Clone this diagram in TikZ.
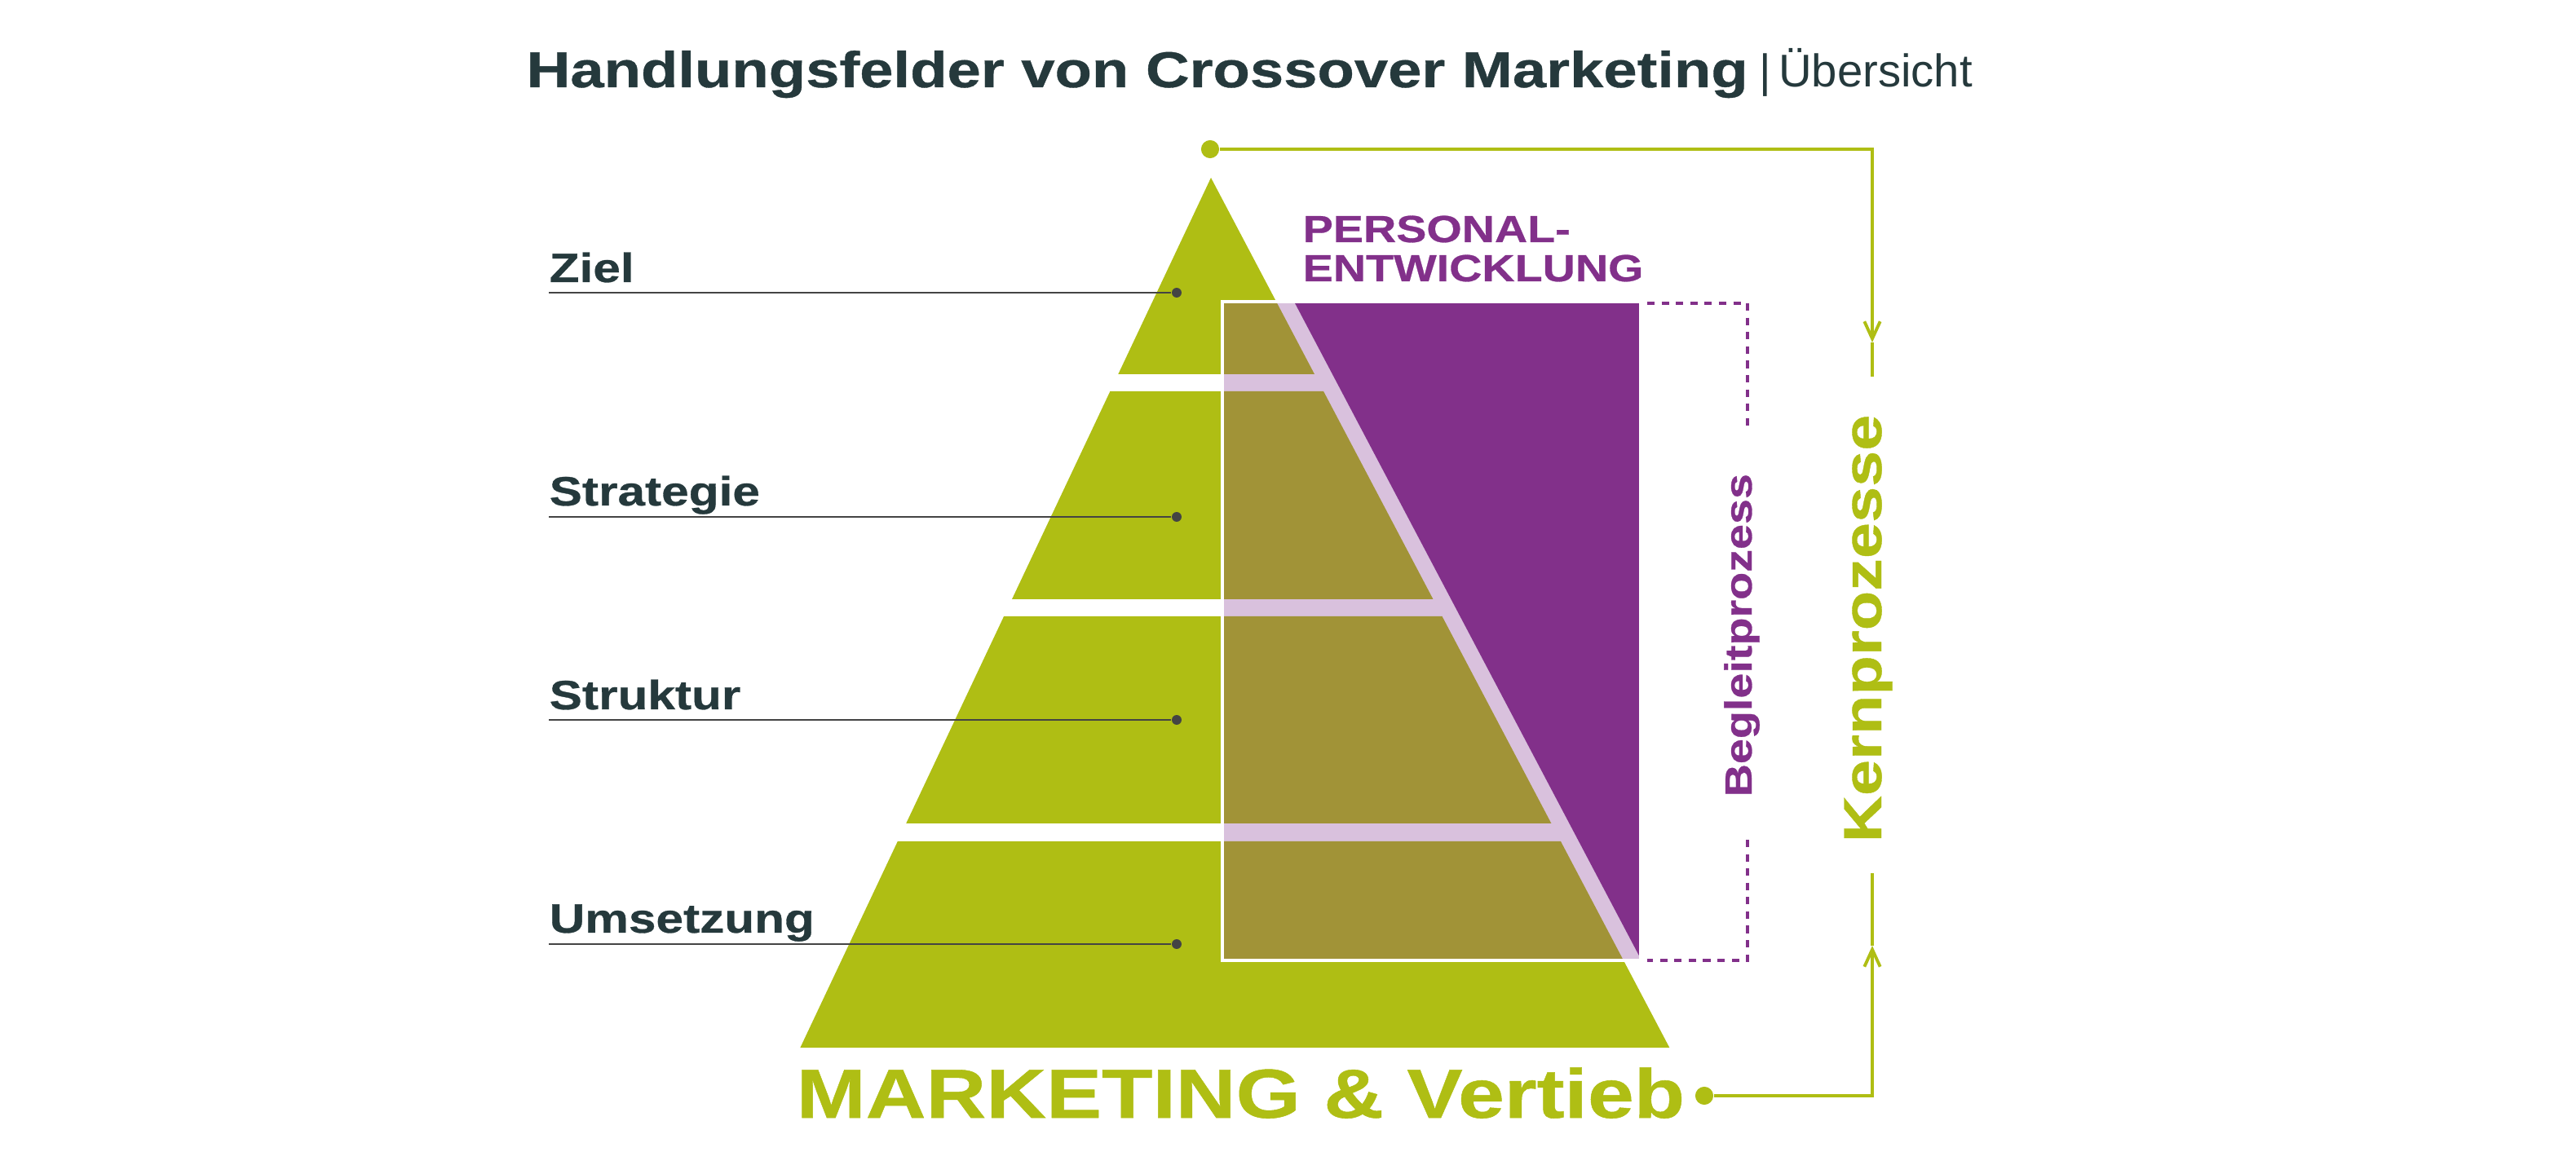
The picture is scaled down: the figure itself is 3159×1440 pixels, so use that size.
\documentclass[tikz,border=0pt]{standalone}
\usepackage{fontspec}
\setmainfont{Liberation Sans}
\newfontfamily\widesans[FakeStretch=1.2, FakeBold=0.6]{Liberation Sans}
\usepackage{xcolor}
\usetikzlibrary{arrows.meta, positioning}

\definecolor{pyrgreen}{HTML}{AFBE14}
\definecolor{pyrolive}{HTML}{A19337}
\definecolor{pelilac}{HTML}{D9C1DD}
\definecolor{pepurple}{HTML}{82308A}
\definecolor{slate}{HTML}{25393C}
\definecolor{leadgray}{HTML}{444444}

% the four tiers of the pyramid (apex at 1485/218)
\newcommand{\pyramidtiers}[1]{%
  \foreach \ytop/\ybot in {218/459, 480/735, 756/1010, 1032/1285}
    \fill[#1] ({1485-0.472*(\ytop-218)},\ytop) -- ({1485+0.527*(\ytop-218)},\ytop)
      -- ({1485+0.527*(\ybot-218)},\ybot) -- ({1485-0.472*(\ybot-218)},\ybot) -- cycle;
}

\begin{document}
\begin{tikzpicture}[x=0.01cm, y=-0.01cm]
  \tikzstyle{level} = [font=\widesans\bfseries\fontsize{14.3}{16}\selectfont, text=slate, inner sep=0pt]
  \tikzstyle{ldot} = [circle, fill=leadgray, minimum size=3.4pt, inner sep=0pt]
  \tikzstyle{leader} = [draw=leadgray, line width=0.6pt]
  \tikzstyle{kdot} = [circle, fill=pyrgreen, minimum size=6.3pt, inner sep=0pt]
  \tikzstyle{kline} = [draw=pyrgreen, line width=1.1pt]
  \tikzstyle{bracket} = [draw=pepurple, line width=0.95pt, dash pattern=on 2.6pt off 2.4pt]
  \tikzstyle{petext} = [font=\widesans\bfseries\fontsize{13.2}{15}\selectfont, text=pepurple, inner sep=0pt]
  \useasboundingbox (0,0) rectangle (3159,1440);

  % title
  \node[font=\widesans\bfseries\fontsize{17.6}{20}\selectfont, text=slate, inner sep=0pt, anchor=base west] (title) at (645,107) {Handlungsfelder von Crossover Marketing};
  \node[font=\fontsize{16}{19}\selectfont, text=slate, inner sep=0pt, base right=0.12cm of title] (sub) {|\,Übersicht};

  % pyramid with overlay
  \pyramidtiers{pyrgreen}
  \fill[pelilac] (1499,370) rectangle (2012,1178);
  \begin{scope}
    \clip (1499,370) rectangle (2012,1178);
    \pyramidtiers{pyrolive}
  \end{scope}
  \fill[pepurple] (1587,370) -- (2012,370) -- (2012,1176) -- cycle;
  \draw[white, line width=0.9pt] (1499,370) rectangle (2012,1178);

  \node[petext, anchor=base west] (pe1) at (1597,297) {PERSONAL-};
  \node[petext, anchor=base west] (pe2) at (1597,345) {ENTWICKLUNG};

  % levels
  \node[level, anchor=base west] (ziel) at (673,346) {Ziel};
  \node[level, anchor=base west] (strat) at (673,620) {Strategie};
  \node[level, anchor=base west] (struk) at (673,870) {Struktur};
  \node[level, anchor=base west] (ums) at (673,1144) {Umsetzung};
  \node[ldot] (d-ziel) at (1443,359) {};
  \node[ldot] (d-strat) at (1443,634) {};
  \node[ldot] (d-struk) at (1443,883) {};
  \node[ldot] (d-ums) at (1443,1158) {};
  \draw[leader] (ziel.west |- d-ziel) -- (d-ziel);
  \draw[leader] (strat.west |- d-strat) -- (d-strat);
  \draw[leader] (struk.west |- d-struk) -- (d-struk);
  \draw[leader] (ums.west |- d-ums) -- (d-ums);

  \node[font=\widesans\bfseries\fontsize{24.2}{28}\selectfont, text=pyrgreen, inner sep=0pt, anchor=base west] (mv) at (976,1371) {MARKETING \& Vertieb};

  % Begleitprozess
  \node[font=\widesans\bfseries\fontsize{13.2}{15}\selectfont, text=pepurple, inner sep=0pt, rotate=90, anchor=base west] (begl) at (2148,978) {Begleitprozess};
  \coordinate (bg-a) at (2020,372);
  \coordinate (bg-top) at (2143,522);
  \coordinate (bg-bot) at (2143,1030);
  \coordinate (bg-b) at (2020,1178);
  \draw[bracket] (bg-a) -| (bg-top);
  \draw[bracket] (bg-bot) |- (bg-b);

  % Kernprozesse
  \node[font=\widesans\bfseries\fontsize{18.8}{22}\selectfont, text=pyrgreen, inner sep=0pt, rotate=90, anchor=base west] (kern) at (2307,1034) {Kernprozesse};
  \node[kdot] (kdot-top) at (1484,183) {};
  \node[kdot] (kdot-bot) at (2090,1344) {};
  \coordinate (k-in) at (2296,420);
  \coordinate (k-inend) at (2296,462);
  \coordinate (k-out) at (2296,1160);
  \coordinate (k-outend) at (2296,1071);
  \draw[kline, -{Straight Barb[length=6pt, width=5.5pt]}] (kdot-top) -| (k-in);
  \draw[kline] (k-in) -- (k-inend);
  \draw[kline, -{Straight Barb[length=6pt, width=5.5pt]}] (kdot-bot) -| (k-out);
  \draw[kline] (k-out) -- (k-outend);
\end{tikzpicture}
\end{document}
